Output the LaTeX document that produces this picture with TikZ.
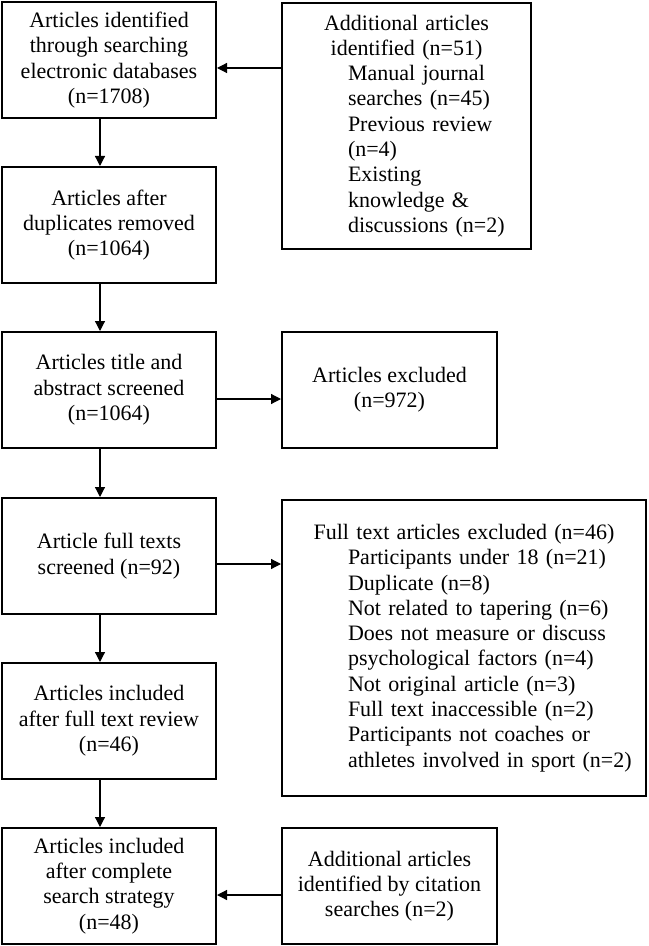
\documentclass[tikz,border=0pt]{standalone}
\usepackage{fontspec}
\setmainfont{Liberation Serif}
\usetikzlibrary{arrows.meta,calc}
\begin{document}
\begin{tikzpicture}[x=0.5pt,y=-0.5pt,
  box/.style={draw, line width=1pt, inner sep=0pt, align=center,
    font=\fontsize{11}{12.65}\selectfont},
  lbox/.style={box, align=left},
  arr/.style={line width=0.6pt, -{Triangle[length=5pt,width=5pt]}}]
\useasboundingbox (0,0) rectangle (648,946);
% left column
\node[box, minimum width=107pt, minimum height=58pt] (A) at (109,60)
  {Articles identified\\through searching\\electronic databases\\(n=1708)};
\node[box, minimum width=107pt, minimum height=58pt] (C) at (109,225)
  {Articles after\\duplicates removed\\(n=1064)};
\node[box, minimum width=107pt, minimum height=58pt] (D) at (109,390)
  {Articles title and\\abstract screened\\(n=1064)};
\node[box, minimum width=107pt, minimum height=58pt] (F) at (109,556)
  {Article full texts\\screened (n=92)};
\node[box, minimum width=107pt, minimum height=58pt] (H) at (109,721)
  {Articles included\\after full text review\\(n=46)};
\node[box, minimum width=107pt, minimum height=58pt] (I) at (109,886)
  {Articles included\\after complete\\search strategy\\(n=48)};
% right column
\node[lbox, text width=124.5pt, minimum height=123pt] (B) at (406.5,126)
  {\makebox[124.5pt]{Additional articles}\\
   \makebox[124.5pt]{identified (n=51)}\\
   \hspace*{33pt}Manual journal\\
   \hspace*{33pt}searches (n=45)\\
   \hspace*{33pt}Previous review\\
   \hspace*{33pt}(n=4)\\
   \hspace*{33pt}Existing\\
   \hspace*{33pt}knowledge \&\\
   \hspace*{33pt}discussions (n=2)};
\node[box, minimum width=107.5pt, minimum height=58pt] (E) at (389.5,390)
  {Articles excluded\\(n=972)};
\node[lbox, text width=182pt, minimum height=148pt] (G) at (464,648)
  {\makebox[182pt]{Full text articles excluded (n=46)}\\
   \hspace*{33pt}Participants under 18 (n=21)\\
   \hspace*{33pt}Duplicate (n=8)\\
   \hspace*{33pt}Not related to tapering (n=6)\\
   \hspace*{33pt}Does not measure or discuss\\
   \hspace*{33pt}psychological factors (n=4)\\
   \hspace*{33pt}Not original article (n=3)\\
   \hspace*{33pt}Full text inaccessible (n=2)\\
   \hspace*{33pt}Participants not coaches or\\
   \hspace*{33pt}athletes involved in sport (n=2)};
\node[box, minimum width=107.5pt, minimum height=58pt] (K) at (389.5,886)
  {Additional articles\\identified by citation\\searches (n=2)};
% vertical arrows
\draw[arr] ([xshift=-4.5pt]A.south) -- ([xshift=-4.5pt]C.north);
\draw[arr] ([xshift=-4.5pt]C.south) -- ([xshift=-4.5pt]D.north);
\draw[arr] ([xshift=-4.5pt]D.south) -- ([xshift=-4.5pt]F.north);
\draw[arr] ([xshift=-4.5pt]F.south) -- ([xshift=-4.5pt]H.north);
\draw[arr] ([xshift=-4.5pt]H.south) -- ([xshift=-4.5pt]I.north);
% horizontal arrows
\draw[arr] ($(B.west |- A.east)+(0,-4pt)$) -- ($(A.east)+(0,-4pt)$);
\draw[arr] ($(D.east)+(0,-4.5pt)$) -- ($(D.east -| E.west)+(0,-4.5pt)$);
\draw[arr] ($(F.east)+(0,-4pt)$) -- ($(F.east -| G.west)+(0,-4pt)$);
\draw[arr] ($(K.west |- I.east)+(0,-4.5pt)$) -- ($(I.east)+(0,-4.5pt)$);
\end{tikzpicture}
\end{document}
